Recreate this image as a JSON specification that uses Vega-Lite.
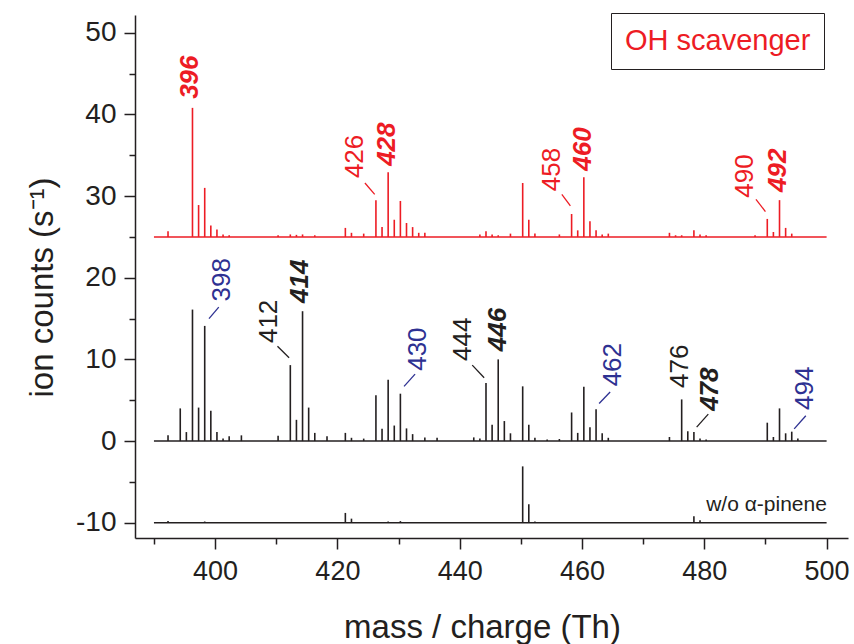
{
  "$schema": "https://vega.github.io/schema/vega-lite/v6.json",
  "autosize": {"type": "none"},
  "padding": {"left": 135, "top": 15, "right": 6, "bottom": 106},
  "width": 713,
  "height": 523,
  "background": "white",
  "config": {
    "view": {"stroke": null},
    "font": "Liberation Sans",
    "axis": {
      "grid": false,
      "domainColor": "#231f20",
      "domainWidth": 1.5,
      "tickColor": "#231f20",
      "tickWidth": 1.5,
      "labelColor": "#231f20",
      "titleColor": "#231f20",
      "labelFont": "Liberation Sans",
      "titleFont": "Liberation Sans",
      "titleFontWeight": "normal",
      "labelOverlap": false,
      "labelFlush": false
    }
  },
  "datasets": {
    "peaks": [
      {"series": "OH scavenger", "mz": 392.3, "base": 25, "top": 25.7},
      {"series": "OH scavenger", "mz": 396.3, "base": 25, "top": 40.8},
      {"series": "OH scavenger", "mz": 397.3, "base": 25, "top": 28.9},
      {"series": "OH scavenger", "mz": 398.3, "base": 25, "top": 31.0},
      {"series": "OH scavenger", "mz": 399.3, "base": 25, "top": 26.4},
      {"series": "OH scavenger", "mz": 400.3, "base": 25, "top": 25.9},
      {"series": "OH scavenger", "mz": 401.3, "base": 25, "top": 25.3},
      {"series": "OH scavenger", "mz": 402.3, "base": 25, "top": 25.2},
      {"series": "OH scavenger", "mz": 410.3, "base": 25, "top": 25.2},
      {"series": "OH scavenger", "mz": 412.3, "base": 25, "top": 25.3},
      {"series": "OH scavenger", "mz": 413.3, "base": 25, "top": 25.25},
      {"series": "OH scavenger", "mz": 414.3, "base": 25, "top": 25.3},
      {"series": "OH scavenger", "mz": 416.3, "base": 25, "top": 25.2},
      {"series": "OH scavenger", "mz": 421.3, "base": 25, "top": 26.1},
      {"series": "OH scavenger", "mz": 422.3, "base": 25, "top": 25.5},
      {"series": "OH scavenger", "mz": 424.3, "base": 25, "top": 25.4},
      {"series": "OH scavenger", "mz": 426.3, "base": 25, "top": 29.5},
      {"series": "OH scavenger", "mz": 427.3, "base": 25, "top": 26.2},
      {"series": "OH scavenger", "mz": 428.3, "base": 25, "top": 32.9},
      {"series": "OH scavenger", "mz": 429.3, "base": 25, "top": 27.1},
      {"series": "OH scavenger", "mz": 430.3, "base": 25, "top": 29.4},
      {"series": "OH scavenger", "mz": 431.3, "base": 25, "top": 26.7},
      {"series": "OH scavenger", "mz": 432.3, "base": 25, "top": 26.2},
      {"series": "OH scavenger", "mz": 433.3, "base": 25, "top": 25.5},
      {"series": "OH scavenger", "mz": 434.3, "base": 25, "top": 25.5},
      {"series": "OH scavenger", "mz": 443.3, "base": 25, "top": 25.3},
      {"series": "OH scavenger", "mz": 444.3, "base": 25, "top": 25.7},
      {"series": "OH scavenger", "mz": 445.3, "base": 25, "top": 25.3},
      {"series": "OH scavenger", "mz": 446.3, "base": 25, "top": 25.2},
      {"series": "OH scavenger", "mz": 448.3, "base": 25, "top": 25.4},
      {"series": "OH scavenger", "mz": 450.3, "base": 25, "top": 31.6},
      {"series": "OH scavenger", "mz": 451.3, "base": 25, "top": 27.1},
      {"series": "OH scavenger", "mz": 452.3, "base": 25, "top": 25.4},
      {"series": "OH scavenger", "mz": 456.3, "base": 25, "top": 25.3},
      {"series": "OH scavenger", "mz": 458.3, "base": 25, "top": 27.8},
      {"series": "OH scavenger", "mz": 459.3, "base": 25, "top": 25.8},
      {"series": "OH scavenger", "mz": 460.3, "base": 25, "top": 32.3},
      {"series": "OH scavenger", "mz": 461.3, "base": 25, "top": 26.9},
      {"series": "OH scavenger", "mz": 462.3, "base": 25, "top": 25.8},
      {"series": "OH scavenger", "mz": 463.3, "base": 25, "top": 25.3},
      {"series": "OH scavenger", "mz": 464.3, "base": 25, "top": 25.4},
      {"series": "OH scavenger", "mz": 474.3, "base": 25, "top": 25.5},
      {"series": "OH scavenger", "mz": 475.3, "base": 25, "top": 25.2},
      {"series": "OH scavenger", "mz": 476.3, "base": 25, "top": 25.2},
      {"series": "OH scavenger", "mz": 478.3, "base": 25, "top": 25.8},
      {"series": "OH scavenger", "mz": 479.3, "base": 25, "top": 25.3},
      {"series": "OH scavenger", "mz": 480.3, "base": 25, "top": 25.2},
      {"series": "OH scavenger", "mz": 488.3, "base": 25, "top": 25.2},
      {"series": "OH scavenger", "mz": 490.3, "base": 25, "top": 27.2},
      {"series": "OH scavenger", "mz": 491.3, "base": 25, "top": 25.6},
      {"series": "OH scavenger", "mz": 492.3, "base": 25, "top": 29.5},
      {"series": "OH scavenger", "mz": 493.3, "base": 25, "top": 26.1},
      {"series": "OH scavenger", "mz": 494.3, "base": 25, "top": 25.4},
      {"series": "no scavenger", "mz": 392.3, "base": 0, "top": 0.7},
      {"series": "no scavenger", "mz": 394.3, "base": 0, "top": 4.0},
      {"series": "no scavenger", "mz": 395.3, "base": 0, "top": 1.1},
      {"series": "no scavenger", "mz": 396.3, "base": 0, "top": 16.1},
      {"series": "no scavenger", "mz": 397.3, "base": 0, "top": 4.1},
      {"series": "no scavenger", "mz": 398.3, "base": 0, "top": 14.1},
      {"series": "no scavenger", "mz": 399.3, "base": 0, "top": 3.7},
      {"series": "no scavenger", "mz": 400.3, "base": 0, "top": 1.1},
      {"series": "no scavenger", "mz": 401.3, "base": 0, "top": 0.3},
      {"series": "no scavenger", "mz": 402.3, "base": 0, "top": 0.6},
      {"series": "no scavenger", "mz": 404.3, "base": 0, "top": 0.7},
      {"series": "no scavenger", "mz": 410.3, "base": 0, "top": 0.65},
      {"series": "no scavenger", "mz": 412.3, "base": 0, "top": 9.3},
      {"series": "no scavenger", "mz": 413.3, "base": 0, "top": 2.6},
      {"series": "no scavenger", "mz": 414.3, "base": 0, "top": 15.9},
      {"series": "no scavenger", "mz": 415.3, "base": 0, "top": 4.1},
      {"series": "no scavenger", "mz": 416.3, "base": 0, "top": 1.0},
      {"series": "no scavenger", "mz": 418.3, "base": 0, "top": 0.6},
      {"series": "no scavenger", "mz": 421.3, "base": 0, "top": 1.0},
      {"series": "no scavenger", "mz": 422.3, "base": 0, "top": 0.4},
      {"series": "no scavenger", "mz": 424.3, "base": 0, "top": 0.3},
      {"series": "no scavenger", "mz": 426.3, "base": 0, "top": 5.6},
      {"series": "no scavenger", "mz": 427.3, "base": 0, "top": 1.5},
      {"series": "no scavenger", "mz": 428.3, "base": 0, "top": 7.5},
      {"series": "no scavenger", "mz": 429.3, "base": 0, "top": 1.9},
      {"series": "no scavenger", "mz": 430.3, "base": 0, "top": 5.8},
      {"series": "no scavenger", "mz": 431.3, "base": 0, "top": 1.55},
      {"series": "no scavenger", "mz": 432.3, "base": 0, "top": 0.85},
      {"series": "no scavenger", "mz": 434.3, "base": 0, "top": 0.45},
      {"series": "no scavenger", "mz": 436.3, "base": 0, "top": 0.4},
      {"series": "no scavenger", "mz": 442.3, "base": 0, "top": 0.45},
      {"series": "no scavenger", "mz": 443.3, "base": 0, "top": 0.3},
      {"series": "no scavenger", "mz": 444.3, "base": 0, "top": 7.1},
      {"series": "no scavenger", "mz": 445.3, "base": 0, "top": 2.0},
      {"series": "no scavenger", "mz": 446.3, "base": 0, "top": 10.0},
      {"series": "no scavenger", "mz": 447.3, "base": 0, "top": 2.45},
      {"series": "no scavenger", "mz": 448.3, "base": 0, "top": 0.95},
      {"series": "no scavenger", "mz": 450.3, "base": 0, "top": 6.7},
      {"series": "no scavenger", "mz": 451.3, "base": 0, "top": 2.0},
      {"series": "no scavenger", "mz": 452.3, "base": 0, "top": 0.4},
      {"series": "no scavenger", "mz": 454.3, "base": 0, "top": 0.2},
      {"series": "no scavenger", "mz": 456.3, "base": 0, "top": 0.25},
      {"series": "no scavenger", "mz": 458.3, "base": 0, "top": 3.5},
      {"series": "no scavenger", "mz": 459.3, "base": 0, "top": 1.0},
      {"series": "no scavenger", "mz": 460.3, "base": 0, "top": 6.65},
      {"series": "no scavenger", "mz": 461.3, "base": 0, "top": 1.7},
      {"series": "no scavenger", "mz": 462.3, "base": 0, "top": 3.9},
      {"series": "no scavenger", "mz": 463.3, "base": 0, "top": 0.95},
      {"series": "no scavenger", "mz": 464.3, "base": 0, "top": 0.4},
      {"series": "no scavenger", "mz": 474.3, "base": 0, "top": 0.5},
      {"series": "no scavenger", "mz": 476.3, "base": 0, "top": 5.1},
      {"series": "no scavenger", "mz": 477.3, "base": 0, "top": 1.2},
      {"series": "no scavenger", "mz": 478.3, "base": 0, "top": 1.1},
      {"series": "no scavenger", "mz": 479.3, "base": 0, "top": 0.3},
      {"series": "no scavenger", "mz": 480.3, "base": 0, "top": 0.2},
      {"series": "no scavenger", "mz": 490.3, "base": 0, "top": 2.25},
      {"series": "no scavenger", "mz": 491.3, "base": 0, "top": 0.5},
      {"series": "no scavenger", "mz": 492.3, "base": 0, "top": 4.0},
      {"series": "no scavenger", "mz": 493.3, "base": 0, "top": 0.95},
      {"series": "no scavenger", "mz": 494.3, "base": 0, "top": 1.15},
      {"series": "no scavenger", "mz": 495.3, "base": 0, "top": 0.3},
      {"series": "w/o α-pinene", "mz": 392.3, "base": -10, "top": -9.8},
      {"series": "w/o α-pinene", "mz": 398.3, "base": -10, "top": -9.85},
      {"series": "w/o α-pinene", "mz": 400.3, "base": -10, "top": -9.9},
      {"series": "w/o α-pinene", "mz": 421.3, "base": -10, "top": -8.8},
      {"series": "w/o α-pinene", "mz": 422.3, "base": -10, "top": -9.5},
      {"series": "w/o α-pinene", "mz": 428.3, "base": -10, "top": -9.85},
      {"series": "w/o α-pinene", "mz": 430.3, "base": -10, "top": -9.8},
      {"series": "w/o α-pinene", "mz": 450.3, "base": -10, "top": -3.1},
      {"series": "w/o α-pinene", "mz": 451.3, "base": -10, "top": -7.75},
      {"series": "w/o α-pinene", "mz": 452.3, "base": -10, "top": -9.85},
      {"series": "w/o α-pinene", "mz": 478.3, "base": -10, "top": -9.2},
      {"series": "w/o α-pinene", "mz": 479.3, "base": -10, "top": -9.7}
    ],
    "baselines": [
      {"series": "OH scavenger", "from": 390, "to": 500, "base": 25},
      {"series": "no scavenger", "from": 390, "to": 500, "base": 0},
      {"series": "w/o α-pinene", "from": 390, "to": 500, "base": -10}
    ],
    "labels": [
      {"text": "396", "group": "OH scavenger", "weight": "bold", "mz": 395.9, "y": 41.9},
      {"text": "426", "group": "OH scavenger", "weight": "plain", "mz": 422.9, "y": 32.2},
      {"text": "428", "group": "OH scavenger", "weight": "bold", "mz": 428.15, "y": 33.7},
      {"text": "458", "group": "OH scavenger", "weight": "plain", "mz": 455.05, "y": 30.6},
      {"text": "460", "group": "OH scavenger", "weight": "bold", "mz": 460.2, "y": 33.1},
      {"text": "490", "group": "OH scavenger", "weight": "plain", "mz": 486.65, "y": 29.8},
      {"text": "492", "group": "OH scavenger", "weight": "bold", "mz": 492.0, "y": 30.5},
      {"text": "398", "group": "no scavenger, +O2 series", "weight": "plain", "mz": 401.07, "y": 17.1},
      {"text": "412", "group": "no scavenger", "weight": "plain", "mz": 408.8, "y": 12.0},
      {"text": "414", "group": "no scavenger", "weight": "bold", "mz": 413.9, "y": 16.9},
      {"text": "430", "group": "no scavenger, +O2 series", "weight": "plain", "mz": 433.2, "y": 8.6},
      {"text": "444", "group": "no scavenger", "weight": "plain", "mz": 440.6, "y": 9.8},
      {"text": "446", "group": "no scavenger", "weight": "bold", "mz": 446.3, "y": 11.0},
      {"text": "462", "group": "no scavenger, +O2 series", "weight": "plain", "mz": 465.1, "y": 6.7},
      {"text": "476", "group": "no scavenger", "weight": "plain", "mz": 476.0, "y": 6.5},
      {"text": "478", "group": "no scavenger", "weight": "bold", "mz": 480.9, "y": 3.7},
      {"text": "494", "group": "no scavenger, +O2 series", "weight": "plain", "mz": 496.45, "y": 3.8}
    ],
    "leaders": [
      {"group": "OH scavenger", "mz": 424.5, "y": 31.6, "mz2": 426.1, "y2": 30.2},
      {"group": "OH scavenger", "mz": 456.7, "y": 30.2, "mz2": 458.1, "y2": 28.8},
      {"group": "OH scavenger", "mz": 488.45, "y": 29.6, "mz2": 490.0, "y2": 28.1},
      {"group": "no scavenger, +O2 series", "mz": 399.0, "y": 15.0, "mz2": 400.6, "y2": 16.4},
      {"group": "no scavenger", "mz": 410.2, "y": 11.6, "mz2": 412.1, "y2": 10.2},
      {"group": "no scavenger, +O2 series", "mz": 430.9, "y": 6.7, "mz2": 432.7, "y2": 8.2},
      {"group": "no scavenger", "mz": 442.05, "y": 9.3, "mz2": 444.0, "y2": 7.75},
      {"group": "no scavenger, +O2 series", "mz": 462.8, "y": 4.6, "mz2": 464.6, "y2": 6.0},
      {"group": "no scavenger", "mz": 478.75, "y": 1.7, "mz2": 480.65, "y2": 3.3},
      {"group": "no scavenger, +O2 series", "mz": 494.7, "y": 1.5, "mz2": 496.6, "y2": 3.1}
    ],
    "notes": [
      {"text": "w/o α-pinene", "group": "w/o α-pinene", "mz": 480.3, "y": -8.6}
    ]
  },
  "encoding": {
    "x": {
      "type": "quantitative",
      "scale": {"domain": [386.9, 503.5], "nice": false, "zero": false}
    },
    "y": {
      "type": "quantitative",
      "scale": {"domain": [-11.87, 52.17], "nice": false, "zero": false}
    }
  },
  "layer": [
    {
      "data": {"name": "baselines"},
      "mark": {"type": "rule", "strokeWidth": 1.5, "clip": false},
      "encoding": {
        "x": {
          "field": "from",
          "type": "quantitative",
          "title": "mass / charge (Th)",
          "axis": {
            "values": [390, 400, 410, 420, 430, 440, 450, 460, 470, 480, 490, 500],
            "labelExpr": "datum.value % 20 === 0 ? datum.label : ''",
            "tickSize": {"condition": {"test": "datum.value % 20 === 0", "value": 11}, "value": 6},
            "labelFontSize": 27,
            "labelPadding": 9,
            "titleFontSize": 33,
            "titlePadding": 27,
            "titleX": 347
          }
        },
        "x2": {"field": "to"},
        "y": {
          "field": "base",
          "type": "quantitative",
          "title": "ion counts (s⁻¹)",
          "axis": {
            "values": [-10, -5, 0, 5, 10, 15, 20, 25, 30, 35, 40, 45, 50],
            "labelExpr": "datum.value % 10 === 0 ? '' + datum.value : ''",
            "tickSize": {"condition": {"test": "datum.value % 10 === 0", "value": 11}, "value": 6},
            "labelFontSize": 28,
            "labelPadding": 8,
            "titleFontSize": 33,
            "titlePadding": 16,
            "titleY": 272
          }
        },
        "color": {
          "field": "series",
          "type": "nominal",
          "scale": {
            "domain": ["OH scavenger", "no scavenger", "w/o α-pinene", "no scavenger, +O2 series"],
            "range": ["#ed1c24", "#231f20", "#231f20", "#2e3192"]
          },
          "legend": {
            "values": ["OH scavenger"],
            "orient": "none",
            "legendX": 476,
            "legendY": -2,
            "title": null,
            "strokeColor": "#231f20",
            "padding": 13,
            "labelFont": "Liberation Sans",
            "labelFontSize": 29,
            "labelColor": "#ed1c24",
            "labelLimit": 400,
            "labelOffset": -28,
            "symbolType": "circle",
            "symbolSize": 0,
            "symbolOpacity": 0,
            "symbolStrokeWidth": 0
          }
        }
      }
    },
    {
      "data": {"name": "peaks"},
      "mark": {"type": "rule", "strokeWidth": 1.6},
      "encoding": {
        "x": {"field": "mz", "type": "quantitative"},
        "y": {"field": "base", "type": "quantitative"},
        "y2": {"field": "top"},
        "color": {"field": "series", "type": "nominal", "legend": null}
      }
    },
    {
      "data": {"name": "leaders"},
      "mark": {"type": "rule", "strokeWidth": 1.3},
      "encoding": {
        "x": {"field": "mz", "type": "quantitative"},
        "x2": {"field": "mz2"},
        "y": {"field": "y", "type": "quantitative"},
        "y2": {"field": "y2"},
        "color": {"field": "group", "type": "nominal", "legend": null}
      }
    },
    {
      "data": {"name": "labels"},
      "transform": [{"filter": "datum.weight === 'plain'"}],
      "mark": {"type": "text", "angle": 270, "align": "left", "baseline": "middle", "fontSize": 26, "font": "Liberation Sans"},
      "encoding": {
        "x": {"field": "mz", "type": "quantitative"},
        "y": {"field": "y", "type": "quantitative"},
        "text": {"field": "text"},
        "color": {"field": "group", "type": "nominal", "legend": null}
      }
    },
    {
      "data": {"name": "labels"},
      "transform": [{"filter": "datum.weight === 'bold'"}],
      "mark": {"type": "text", "angle": 270, "align": "left", "baseline": "middle", "fontSize": 26, "font": "Liberation Sans", "fontWeight": "bold", "fontStyle": "italic"},
      "encoding": {
        "x": {"field": "mz", "type": "quantitative"},
        "y": {"field": "y", "type": "quantitative"},
        "text": {"field": "text"},
        "color": {"field": "group", "type": "nominal", "legend": null}
      }
    },
    {
      "data": {"name": "notes"},
      "mark": {"type": "text", "align": "left", "baseline": "alphabetic", "fontSize": 21, "font": "Liberation Sans"},
      "encoding": {
        "x": {"field": "mz", "type": "quantitative"},
        "y": {"field": "y", "type": "quantitative"},
        "text": {"field": "text"},
        "color": {"field": "group", "type": "nominal", "legend": null}
      }
    }
  ]
}
